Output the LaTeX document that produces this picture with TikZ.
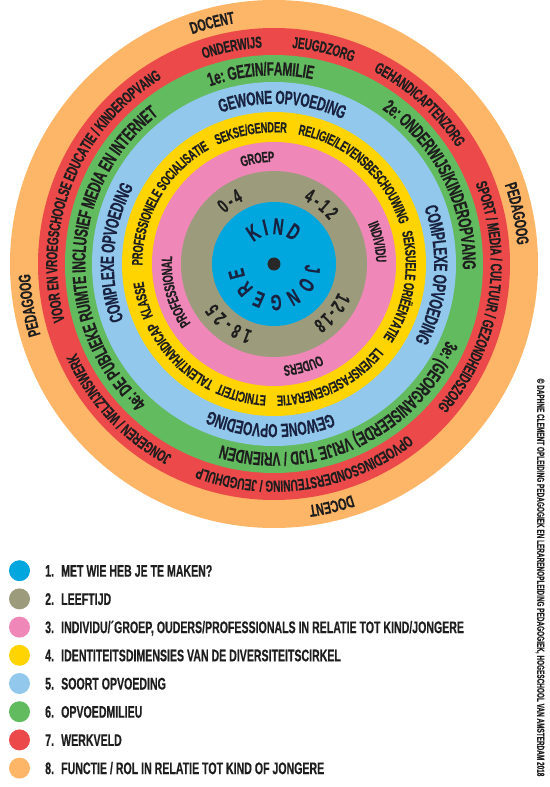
\documentclass[tikz,border=0pt]{standalone}
\usepackage{fontspec}
\newfontfamily\condfont{Liberation Sans Bold}[FakeStretch=0.63,FakeBold=0.4]
\usetikzlibrary{decorations.text}
\definecolor{ringblue}{RGB}{0,166,222}
\definecolor{ringolive}{RGB}{156,155,123}
\definecolor{ringpink}{RGB}{240,135,185}
\definecolor{ringyellow}{RGB}{255,212,0}
\definecolor{ringsky}{RGB}{146,200,236}
\definecolor{ringgreen}{RGB}{99,187,95}
\definecolor{ringred}{RGB}{236,74,74}
\definecolor{ringorange}{RGB}{253,181,103}
\definecolor{ink}{RGB}{30,30,30}
\definecolor{navy}{RGB}{25,35,65}
\definecolor{dotgray}{RGB}{40,40,40}
% text centred on a ring: [colour] radius, mid angle, size, text
\newcommand{\ringlabel}[5][ink]{%
  \path[decorate,decoration={text along path,text align=center,raise=-0.36*#4pt,
    text={|\condfont\fontsize{#4}{#4}\selectfont\color{#1}|#5}}]
    (#3+90:#2) arc[start angle=#3+90,end angle=#3-90,radius=#2];}
% text spread between two angles: [colour] radius, start, end, size, text
\newcommand{\fitlabel}[6][ink]{%
  \path[decorate,decoration={text along path,text align=fit to path,raise=-0.36*#5pt,
    text={|\condfont\fontsize{#5}{#5}\selectfont\color{#1}|#6}}]
    (#3:#2) arc[start angle=#3,end angle=#4,radius=#2];}
\newcommand{\legendfont}{\condfont\fontsize{16.8}{16.8}\selectfont}
\tikzset{
  legenddot/.style={circle,inner sep=0,minimum size=21},
  legendtext/.style={inner sep=0,font=\legendfont,text=ink,anchor=base west}
}
\begin{document}
\begin{tikzpicture}[x=1pt,y=1pt]
  \useasboundingbox (-274,-523) rectangle (275,264);
  % rings, outside in
  \foreach \r/\c in {264/ringorange,236/ringred,209/ringgreen,182/ringsky,152/ringyellow,122/ringpink,93/ringolive,62/ringblue}
    \fill[\c] (0,0) circle[radius=\r];
  \fill[dotgray] (0,0) circle[radius=6.5];
  % 1 kind/jongere
  \fitlabel[navy]{38}{131.5}{50.5}{23}{KIND}
  \fitlabel[navy]{39}{-1.8}{-172}{22}{JONGERE}
  % 2 leeftijd
  \fitlabel{77.5}{134}{116}{20}{0-4}
  \fitlabel{77.5}{65}{38.5}{20}{4-12}
  \fitlabel{77.5}{-24}{-56}{20}{12-18}
  \fitlabel{77.5}{252}{214}{20}{18-25}
  % 3 individu/groep
  \ringlabel{107.5}{99}{15}{GROEP}
  \ringlabel{107.5}{12}{15}{INDIVIDU}
  \ringlabel{107.5}{-74}{15}{OUDERS}
  \ringlabel{107.5}{195.5}{15}{PROFESSIONAL}
  % 4 identiteit
  \ringlabel{137}{150}{14.7}{PROFESSIONELE SOCIALISATIE}
  \ringlabel{137}{100}{14.7}{SEKSE/GENDER}
  \ringlabel{137}{48.5}{14.7}{RELIGIE/LEVENSBESCHOUWING}
  \ringlabel{137}{-10}{14.7}{SEKSUELE ORIËENTATIE}
  \ringlabel{137}{-64}{14.7}{LEVENSFASE/GENERATIE}
  \ringlabel{137}{-104}{14.7}{ETNICITEIT}
  \ringlabel{137}{224.5}{14.7}{TALENT/HANDICAP}
  \ringlabel{137}{195.5}{14.7}{KLASSE}
  % 5 opvoeding
  \ringlabel[navy]{167}{87}{19}{GEWONE OPVOEDING}
  \ringlabel[navy]{167}{-4}{19}{COMPLEXE OPVOEDING}
  \ringlabel[navy]{167}{-91.3}{19}{GEWONE OPVOEDING}
  \ringlabel[navy]{167}{175.8}{19}{COMPLEXE OPVOEDING}
  % 6 opvoedmilieu
  \ringlabel{195.5}{94}{18.9}{1e: GEZIN/FAMILIE}
  \ringlabel{195.5}{26.7}{18.9}{2e: ONDERWIJS/KINDEROPVANG}
  \ringlabel{195.5}{-65}{18.9}{3e: (GEORGANISEERDE) VRIJE TIJD / VRIENDEN}
  \ringlabel{195.5}{177.6}{18.9}{4e: DE PUBLIEKE RUIMTE INCLUSIEF MEDIA EN INTERNET}
  % 7 werkveld
  \ringlabel{222.5}{101}{16}{ONDERWIJS}
  \ringlabel{222.5}{77}{16}{JEUGDZORG}
  \ringlabel{222.5}{47.6}{16}{GEHANDICAPTENZORG}
  \ringlabel{222.5}{-9.7}{16}{SPORT / MEDIA / CULTUUR / GEZONDHEIDSZORG}
  \ringlabel{222.5}{-81.2}{16}{OPVOEDINGSONDERSTEUNING / JEUGDHULP}
  \ringlabel{222.5}{223.1}{16}{JONGEREN / WELZIJNSWERK}
  \ringlabel{222.5}{158.2}{16}{VOOR EN VROEGSCHOOLSE EDUCATIE / KINDEROPVANG}
  % 8 functie
  \ringlabel{250}{104.4}{17}{DOCENT}
  \ringlabel{250}{11.7}{17}{PEDAGOOG}
  \ringlabel{250}{-76.6}{17}{DOCENT}
  \ringlabel{250}{189.6}{17}{PEDAGOOG}
  % legend
  \foreach \c/\t [count=\i] in {ringblue/{MET WIE HEB JE TE MAKEN?},
      ringolive/{LEEFTIJD},
      ringpink/{INDIVIDU/´GROEP, OUDERS/PROFESSIONALS IN RELATIE TOT KIND/JONGERE},
      ringyellow/{IDENTITEITSDIMENSIES VAN DE DIVERSITEITSCIRKEL},
      ringsky/{SOORT OPVOEDING},
      ringgreen/{OPVOEDMILIEU},
      ringred/{WERKVELD},
      ringorange/{FUNCTIE / ROL IN RELATIE TOT KIND OF JONGERE}}{
    \pgfmathsetmacro\y{-306.7-28.2*(\i-1)}
    \node[legenddot,fill=\c] (dot\i) at (-254.5,\y) {};
    \node[legendtext] (num\i) at (-229,{\y-6}) {\i.};
    \node[legendtext] (item\i) at (-213,{\y-6}) {\t};
  }
  \node[rotate=-90,inner sep=0,text=ink,font=\condfont\fontsize{10.2}{10.2}\selectfont] (credit) at (266,-313.5)
    {© DAPHNE CLEMENT OPLEIDING PEDAGOGIEK EN LERARENOPLEIDING PEDAGOGIEK, HOGESCHOOL VAN AMSTERDAM 2018};
\end{tikzpicture}
\end{document}
